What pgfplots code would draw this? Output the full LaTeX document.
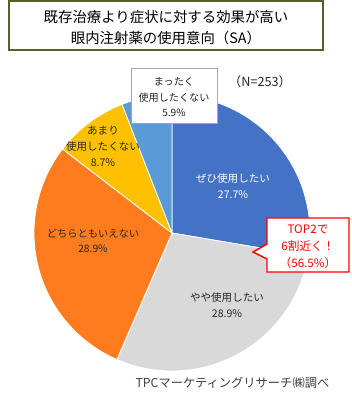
\documentclass[border=0pt]{standalone}
\usepackage{pgfplots}
\pgfplotsset{compat=1.18}
\usepackage{pgfplotstable}
\usepackage{fontspec}
\setmainfont{Noto Sans CJK JP}
\definecolor{cblue}{HTML}{4472C4}
\definecolor{cgray}{HTML}{D9D9D9}
\definecolor{corange}{HTML}{FF7C1E}
\definecolor{cgold}{HTML}{FFC000}
\definecolor{clblue}{HTML}{5B9BD5}
\definecolor{olive}{HTML}{4F6228}
\definecolor{txt}{HTML}{262626}
\newcommand\fs[2]{\fontsize{#1}{#2}\selectfont}
\pgfplotstableread{
value col
27.7 cblue
28.9 cgray
28.9 corange
8.7 cgold
5.9 clblue
}\piedata
\begin{document}
\begin{tikzpicture}
\path[use as bounding box] (0,0) rectangle (263.25pt,300pt);
\begin{axis}[x=0.75pt, y=0.75pt, xmin=0, xmax=351, ymin=0, ymax=400,
  hide axis, clip=false, scale only axis]
\pgfplotstablegetrowsof{\piedata}
\pgfmathtruncatemacro\nrows{\pgfplotsretval-1}
\gdef\cumangle{90}
\pgfplotsforeachungrouped \i in {0,...,\nrows}{
  \pgfplotstablegetelem{\i}{value}\of\piedata
  \let\sliceval\pgfplotsretval
  \pgfplotstablegetelem{\i}{col}\of\piedata
  \let\slicecol\pgfplotsretval
  \pgfmathsetmacro\endangle{\cumangle - \sliceval*360/100.1}
  \edef\temp{\noexpand\fill[fill=\slicecol, draw=white, line width=0.6pt] (axis cs:172,167) -- ++(\cumangle:103.5pt) arc[start angle=\cumangle, end angle=\endangle, radius=103.5pt] -- cycle;}
  \temp
  \global\let\cumangle\endangle
}
% title
\draw[olive, line width=1.6pt, fill=white] (axis cs:9,399) rectangle (axis cs:323,350);
\node[align=center, font=\fs{10.8pt}{15.75pt}, text=black] at (axis cs:166,372.5) {既存治療より症状に対する効果が高い\\眼内注射薬の使用意向（SA）};
% N
\node[font=\fs{9.5pt}{10pt}, text=txt] at (axis cs:260,318) {（N=253）};
% box for mattaku
\draw[gray!70, line width=0.75pt, fill=white] (axis cs:131,331) rectangle (axis cs:217,276);
\node[align=center, font=\fs{7.6pt}{11.6pt}, text=txt] at (axis cs:174,303) {まったく\\使用したくない\\5.9\%};
% slice labels
\node[align=center, font=\fs{7.9pt}{12.5pt}, text=white] at (axis cs:233,214) {ぜひ使用したい\\27.7\%};
\node[align=center, font=\fs{7.9pt}{12pt}, text=txt] at (axis cs:227,95) {やや使用したい\\28.9\%};
\node[align=center, font=\fs{7.7pt}{11pt}, text=txt] at (axis cs:93,159) {どちらともいえない\\28.9\%};
\node[align=center, font=\fs{7.9pt}{12pt}, text=txt] at (axis cs:103,254) {あまり\\使用したくない\\8.7\%};
% callout
\draw[red, line width=1.1pt, fill=white] (axis cs:267,182) -- (axis cs:349,182) -- (axis cs:349,128) -- (axis cs:267,128) -- (axis cs:267,141) -- (axis cs:253,148) -- (axis cs:267,156) -- cycle;
\node[align=center, font=\fs{8.75pt}{12.75pt}, text=red] at (axis cs:308,153) {TOP2で\\6割近く！\\（56.5\%）};
% source
\node[anchor=east, font=\fs{9.2pt}{10pt}, text=black!75] at (axis cs:334,17) {TPCマーケティングリサーチ㈱調べ};
\end{axis}
\end{tikzpicture}
\end{document}
